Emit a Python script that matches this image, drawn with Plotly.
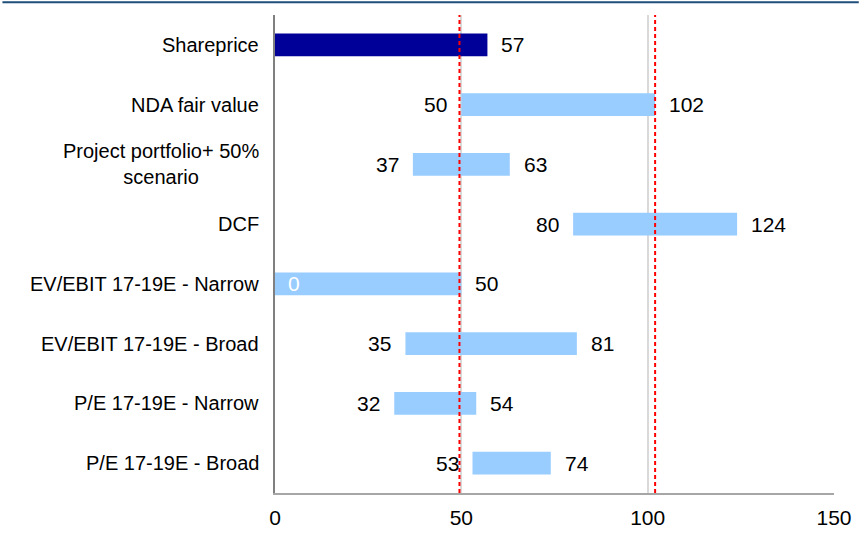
import plotly.graph_objects as go

categories = [
    "Shareprice",
    "NDA fair value",
    "Project portfolio+ 50%<br>scenario",
    "DCF",
    "EV/EBIT 17-19E - Narrow",
    "EV/EBIT 17-19E - Broad",
    "P/E 17-19E - Narrow",
    "P/E 17-19E - Broad",
]
lows = [0, 50, 37, 80, 0, 35, 32, 53]
highs = [57, 102, 63, 124, 50, 81, 54, 74]
show_low_label = [False, True, True, True, True, True, True, True]
ref_lines = [49.5, 102]
x_ticks = [0, 50, 100, 150]

FONT = "Liberation Sans, Arial, sans-serif"
DARK = "#000099"
LIGHT = "#99CCFF"

colors = [DARK] + [LIGHT] * (len(categories) - 1)

fig = go.Figure()
fig.add_trace(go.Bar(
    y=categories,
    x=[h - l for h, l in zip(highs, lows)],
    base=lows,
    orientation="h",
    marker=dict(color=colors, line=dict(width=0)),
    width=0.38,
    hoverinfo="skip",
))

annotations = []
for cat, lo, hi, show in zip(categories, lows, highs, show_low_label):
    annotations.append(dict(
        x=hi, y=cat, xref="x", yref="y", text=str(hi), showarrow=False,
        xanchor="left", xshift=12, font=dict(family=FONT, size=21, color="black"),
    ))
    if show:
        if lo == 0:
            annotations.append(dict(
                x=lo, y=cat, xref="x", yref="y", text=str(lo), showarrow=False,
                xanchor="left", xshift=11, font=dict(family=FONT, size=21, color="white"),
            ))
        else:
            annotations.append(dict(
                x=lo, y=cat, xref="x", yref="y", text=str(lo), showarrow=False,
                xanchor="right", xshift=-12, font=dict(family=FONT, size=21, color="black"),
            ))
    annotations.append(dict(
        x=0, y=cat, xref="paper", yref="y", text=cat, showarrow=False,
        xanchor="right", xshift=-14, align="center",
        font=dict(family=FONT, size=20, color="black"),
    ))

PW = 864 - 275 - 25
PH = 541 - 15 - 37
shapes = []
for v in ref_lines:
    shapes.append(dict(
        type="line", xref="x", yref="paper", x0=v, x1=v, y0=0, y1=1,
        line=dict(color="#FF0000", width=2, dash="4px,3px"), layer="above",
    ))
# top border line across the figure
shapes.append(dict(
    type="line", xref="paper", yref="paper", x0=-275 / PW, x1=589 / PW,
    y0=1 + 13 / PH, y1=1 + 13 / PH,
    line=dict(color="#1F4E79", width=2),
))

fig.update_layout(
    width=864, height=541,
    margin=dict(l=275, r=25, t=15, b=37),
    paper_bgcolor="white", plot_bgcolor="white",
    showlegend=False,
    annotations=annotations,
    shapes=shapes,
    font=dict(family=FONT, size=21, color="black"),
    xaxis=dict(
        range=[0, 150], tickvals=x_ticks, ticktext=[str(t) for t in x_ticks],
        showgrid=True, gridcolor="#D9D9D9", gridwidth=2,
        zeroline=False, showline=True, linecolor="#A6A6A6", linewidth=2,
        ticks="", ticklabelstandoff=5,
        tickfont=dict(family=FONT, size=21, color="black"),
        fixedrange=True,
    ),
    yaxis=dict(
        categoryorder="array", categoryarray=categories,
        autorange="reversed", showticklabels=False,
        showgrid=False, zeroline=False, showline=True,
        linecolor="#808080", linewidth=2, ticks="", fixedrange=True,
    ),
)

fig.write_html("out.html")
